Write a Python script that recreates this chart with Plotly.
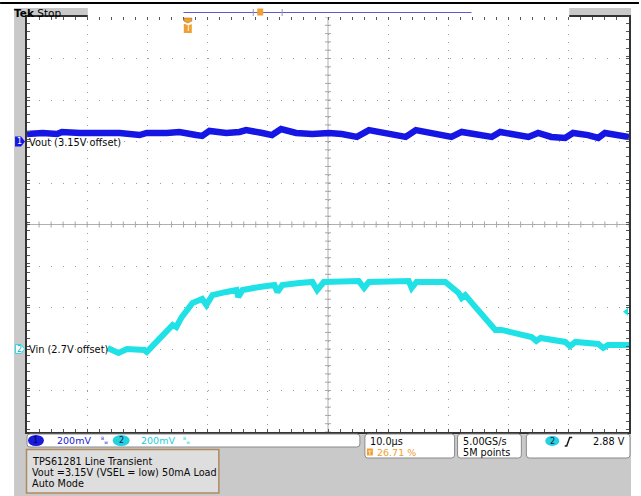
import plotly.graph_objects as go

# ---------------- data (time in us from left screen edge, volts) ----------------
vout_t = [0.0, 2.6, 5.0, 5.8, 8.8, 11.6, 13.2, 15.4, 18.7, 19.9,
          23.2, 25.3, 28.1, 29.1, 30.3, 33.1, 35.3, 36.4, 39.1, 40.7,
          42.2, 44.7, 47.4, 50.2, 52.3, 54.8, 56.8, 59.6, 62.9, 64.6,
          67.2, 70.5, 72.2, 75.0, 77.2, 78.6, 81.6, 83.3, 84.9, 87.1,
          89.4, 90.7, 93.2, 94.9, 96.0, 98.2, 100.0]
vout_v = [3.186, 3.191, 3.186, 3.196, 3.191, 3.191, 3.191, 3.191, 3.181, 3.191,
          3.191, 3.196, 3.181, 3.177, 3.201, 3.191, 3.196, 3.205, 3.191, 3.181,
          3.210, 3.191, 3.186, 3.191, 3.186, 3.172, 3.205, 3.191, 3.172, 3.205,
          3.191, 3.172, 3.196, 3.186, 3.172, 3.196, 3.181, 3.172, 3.191, 3.172,
          3.167, 3.191, 3.181, 3.167, 3.191, 3.181, 3.172]

vin_t = [13.4, 15.2, 16.6, 19.5, 19.9, 22.0, 24.2, 24.8, 25.7, 27.5,
         29.1, 29.8, 30.8, 33.1, 34.8, 35.1, 35.8, 38.6, 41.1, 41.6,
         42.4, 45.2, 47.4, 48.2, 49.3, 55.1, 56.0, 56.8, 63.4, 63.9,
         64.7, 69.5, 70.5, 71.7, 72.2, 72.8, 74.5, 76.2, 77.8, 78.8,
         81.6, 83.8, 84.6, 85.3, 89.4, 90.2, 91.1, 94.9, 95.7, 96.5, 100.0]
vin_v = [2.705, 2.681, 2.700, 2.695, 2.686, 2.753, 2.816, 2.806, 2.854, 2.922,
         2.941, 2.912, 2.960, 2.975, 2.984, 2.951, 2.984, 2.999, 3.008, 2.975,
         3.008, 3.018, 3.023, 2.984, 3.023, 3.028, 2.994, 3.023, 3.028, 2.994,
         3.023, 3.023, 2.999, 2.970, 2.946, 2.960, 2.902, 2.849, 2.792, 2.792,
         2.772, 2.758, 2.739, 2.753, 2.734, 2.714, 2.734, 2.724, 2.705, 2.719, 2.719]

# scope settings
TIME_DIV = 10.0          # us/div
N_XDIV = 10
N_YDIV = 10
CH1_SCALE, CH1_OFFSET, CH1_POS = 0.2, 3.15, 2    # V/div, V, div
CH2_SCALE, CH2_OFFSET, CH2_POS = 0.2, 2.7, -3
TRIG_PCT = 26.71
TRIG_LEVEL = 2.88

ch1_center = CH1_OFFSET - CH1_POS * CH1_SCALE
ch2_center = CH2_OFFSET - CH2_POS * CH2_SCALE
y1_range = [ch1_center - N_YDIV / 2 * CH1_SCALE, ch1_center + N_YDIV / 2 * CH1_SCALE]
y2_range = [ch2_center - N_YDIV / 2 * CH2_SCALE, ch2_center + N_YDIV / 2 * CH2_SCALE]
x_range = [0, N_XDIV * TIME_DIV]
trig_t = TRIG_PCT / 100 * x_range[1]

BLUE = "#1616e4"
CYAN = "#20e2e6"
ORANGE = "#f0a030"
GRAY_BG = "#c9c9c9"
TXT = "#0a0a0a"
FONT = "DejaVu Sans"

# pixel frame of the plot area
L, T, W, H = 27, 17, 604, 415
def X(px):
    return (px - L) / W
def Y(py):
    return (T + H - py) / H

shapes = []
annotations = []

def rect(x0, y0, x1, y1, fill, line=None, lw=0):
    shapes.append(dict(type="rect", xref="paper", yref="paper",
                       x0=X(x0), x1=X(x1), y0=Y(y0), y1=Y(y1),
                       fillcolor=fill, line=dict(color=line or fill, width=lw), layer="above"))

def rrect(x0, y0, x1, y1, fill, line, lw=1, r=3):
    pts = (f"M{X(x0+r)},{Y(y0)} L{X(x1-r)},{Y(y0)} Q{X(x1)},{Y(y0)} {X(x1)},{Y(y0+r)} "
           f"L{X(x1)},{Y(y1-r)} Q{X(x1)},{Y(y1)} {X(x1-r)},{Y(y1)} L{X(x0+r)},{Y(y1)} "
           f"Q{X(x0)},{Y(y1)} {X(x0)},{Y(y1-r)} L{X(x0)},{Y(y0+r)} Q{X(x0)},{Y(y0)} {X(x0+r)},{Y(y0)} Z")
    shapes.append(dict(type="path", xref="paper", yref="paper", path=pts,
                       fillcolor=fill, line=dict(color=line, width=lw), layer="above"))

def oval(x0, y0, x1, y1, fill):
    shapes.append(dict(type="circle", xref="paper", yref="paper",
                       x0=X(x0), x1=X(x1), y0=Y(y0), y1=Y(y1),
                       fillcolor=fill, line=dict(color=fill, width=0), layer="above"))

def line(x0, y0, x1, y1, color, lw=1):
    shapes.append(dict(type="line", xref="paper", yref="paper",
                       x0=X(x0), x1=X(x1), y0=Y(y0), y1=Y(y1),
                       line=dict(color=color, width=lw), layer="above"))

def text(s, px, py, color=TXT, size=10, anchor="left", **kw):
    annotations.append(dict(text=s, xref="paper", yref="paper", x=X(px), y=Y(py),
                            xanchor=anchor, yanchor="middle", showarrow=False,
                            font=dict(family=FONT, size=size, color=color), **kw))

# white page margins around the gray scope frame
rect(-5, -5, 646, 8, "white")
rect(-5, -5, 14, 501, "white")
rect(633, -5, 646, 501, "white")
line(0, 3, 641, 3, "black", 2)

# header bar
rect(88, 8, 571, 17, "white")
line(184, 12.5, 473, 12.5, "#5a5ad6", 1.2)
line(254, 9, 254, 16, "#9a9a9a", 1)
line(283, 9, 283, 16, "#9a9a9a", 1)
rect(258, 8.5, 264, 15.5, ORANGE)
text("<b>Tek</b> Stop", 12, 12.5, "#000000", 10.5)

# center crosshair (solid) with small ticks
shapes.append(dict(type="line", xref="paper", yref="y", x0=0, x1=1, y0=ch1_center, y1=ch1_center,
                   line=dict(color="#b0b0b0", width=1), layer="below"))
shapes.append(dict(type="line", xref="x", yref="paper", x0=x_range[1] / 2, x1=x_range[1] / 2, y0=0, y1=1,
                   line=dict(color="#b0b0b0", width=1), layer="below"))
k = 0
while k <= N_XDIV * 5:
    t = k * TIME_DIV / 5
    shapes.append(dict(type="line", xref="x", yref="y", ysizemode="pixel", yanchor=ch1_center,
                       x0=t, x1=t, y0=-3, y1=3, line=dict(color="#a8a8a8", width=1), layer="below"))
    k += 1
k = 0
while k <= N_YDIV * 5:
    v = y1_range[0] + k * CH1_SCALE / 5
    shapes.append(dict(type="line", xref="x", yref="y", xsizemode="pixel", xanchor=x_range[1] / 2,
                       x0=-3, x1=3, y0=v, y1=v, line=dict(color="#a8a8a8", width=1), layer="below"))
    k += 1

# trigger position marker (top)
shapes.append(dict(type="path", xref="x", yref="paper", xsizemode="pixel", xanchor=trig_t,
                   ysizemode="pixel", yanchor=1,
                   path="M-4,-1 L4,-1 L4,-4 L0,-6 L-4,-4 Z",
                   fillcolor=ORANGE, line=dict(color="#a06010", width=0.5), layer="above"))
shapes.append(dict(type="rect", xref="x", yref="paper", xsizemode="pixel", xanchor=trig_t,
                   ysizemode="pixel", yanchor=1, x0=-4, x1=4, y0=-7, y1=-16,
                   fillcolor=ORANGE, line=dict(color=ORANGE, width=0), layer="above"))
annotations.append(dict(text="T", xref="x", yref="paper", x=trig_t, y=Y(28.5), showarrow=False,
                        xanchor="center", yanchor="middle",
                        font=dict(family=FONT, size=8, color="white")))

# trigger level marker (right edge, ch2)
shapes.append(dict(type="path", xref="paper", yref="y2", xsizemode="pixel", xanchor=1,
                   ysizemode="pixel", yanchor=TRIG_LEVEL, path="M-6,0 L-1,4 L-1,-4 Z",
                   fillcolor=CYAN, line=dict(color=CYAN, width=0), layer="above"))

# channel ground markers + labels
shapes.append(dict(type="path", xref="paper", yref="y", xsizemode="pixel", xanchor=X(14),
                   ysizemode="pixel", yanchor=CH1_OFFSET, path="M1,5 L7,5 L11,0 L7,-5 L1,-5 Z",
                   fillcolor=BLUE, line=dict(color=BLUE, width=0), layer="above"))
annotations.append(dict(text="1", xref="paper", yref="y", x=X(19), y=CH1_OFFSET, showarrow=False,
                        xanchor="center", yanchor="middle",
                        font=dict(family=FONT, size=8, color="white")))
annotations.append(dict(text="Vout (3.15V offset)", xref="paper", yref="y", x=X(26.5), y=CH1_OFFSET,
                        yshift=-1, showarrow=False, xanchor="left", yanchor="middle",
                        font=dict(family=FONT, size=9.8, color=TXT)))
shapes.append(dict(type="path", xref="paper", yref="y2", xsizemode="pixel", xanchor=X(14),
                   ysizemode="pixel", yanchor=CH2_OFFSET, path="M1.5,4.5 L7,4.5 L10.5,0 L7,-4.5 L1.5,-4.5 Z",
                   fillcolor="white", line=dict(color=CYAN, width=1), layer="above"))
annotations.append(dict(text="2", xref="paper", yref="y2", x=X(19.5), y=CH2_OFFSET, showarrow=False,
                        xanchor="center", yanchor="middle",
                        font=dict(family=FONT, size=8, color="#10b0c0")))
annotations.append(dict(text="Vin (2.7V offset)", xref="paper", yref="y2", x=X(27), y=CH2_OFFSET,
                        showarrow=False, xanchor="left", yanchor="middle",
                        font=dict(family=FONT, size=9.8, color=TXT)))

# ---- bottom status area ----
rrect(27, 434, 361, 447, "white", "#8a8a8a", 1)
oval(28, 435, 44, 446, "#1a1ad8")
text("1", 36, 440.5, "#000070", 8, "center")
text("200mV", 55, 440.5, "#1a1ad8", 9.5)
text("<sup>B</sup><sub>w</sub>", 99, 440.5, "#1a1ad8", 6.5)
oval(113, 435, 130, 446, "#22d2dc")
text("2", 121.5, 440.5, "#101060", 8, "center")
text("200mV", 139, 440.5, "#20d0dc", 9.5)
text("<sup>B</sup><sub>w</sub>", 182, 440.5, "#20d0dc", 6.5)

rrect(366, 434, 456, 458, "white", "#8a8a8a", 1)
text("10.0µs", 369, 441, TXT, 9.7)
rect(368, 448.5, 374, 455.5, ORANGE)
text("T", 371, 452, "white", 6, "center")
text("26.71 %", 376, 452, ORANGE, 9.5)

rrect(459, 434, 523, 458, "white", "#8a8a8a", 1)
text("5.00GS/s", 462, 441, TXT, 9.7)
text("5M points", 462, 452, TXT, 9.7)

rrect(528, 434, 632, 458, "white", "#8a8a8a", 1)
oval(547, 436, 561, 446, "#22d2dc")
text("2", 554, 441, "#101060", 8, "center")
shapes.append(dict(type="path", xref="paper", yref="paper",
                   path=f"M{X(566.5)},{Y(446)} L{X(568.5)},{Y(446)} L{X(571.5)},{Y(437.5)} L{X(574)},{Y(437.5)}",
                   line=dict(color="#1a1a1a", width=1.5), layer="above"))
text("2.88 V", 629, 441, TXT, 9.7, "right")

# note box
rect(26.5, 449.5, 219.5, 493, "#dedede", "#b08a60", 1.5)
text("TPS61281 Line Transient", 30, 461, TXT, 9.7)
text("Vout =3.15V (VSEL = low) 50mA Load", 30, 472.5, TXT, 9.7)
text("Auto Mode", 30, 483.5, TXT, 9.7)

# ---------------- figure ----------------
fig = go.Figure()
fig.add_trace(go.Scatter(x=vout_t, y=vout_v, mode="lines", name="Vout",
                         line=dict(color=BLUE, width=6.5), yaxis="y"))
fig.add_trace(go.Scatter(x=vin_t, y=vin_v, mode="lines", name="Vin",
                         line=dict(color=CYAN, width=6), yaxis="y2"))

fig.update_layout(
    width=641, height=496, autosize=False,
    margin=dict(l=L, r=641 - L - W, t=T, b=496 - T - H, pad=0),
    paper_bgcolor=GRAY_BG, plot_bgcolor="white",
    showlegend=False,
    shapes=shapes, annotations=annotations,
    xaxis=dict(range=x_range, tick0=0, dtick=TIME_DIV, showticklabels=False,
               ticks="inside", ticklen=3, tickcolor="#555555", tickwidth=1,
               minor=dict(dtick=TIME_DIV / 5, ticks="inside", ticklen=3, tickcolor="#555555",
                          tickwidth=1, showgrid=False),
               showline=True, linecolor="#333333", linewidth=1.5, mirror="ticks",
               showgrid=True, gridcolor="#9c9c9c", gridwidth=1, griddash="1px,7.3px",
               zeroline=False, fixedrange=True),
    yaxis=dict(range=y1_range, tick0=y1_range[0], dtick=CH1_SCALE, showticklabels=False,
               ticks="inside", ticklen=3, tickcolor="#555555", tickwidth=1,
               minor=dict(dtick=CH1_SCALE / 5, ticks="inside", ticklen=3, tickcolor="#555555",
                          tickwidth=1, showgrid=False),
               showline=True, linecolor="#333333", linewidth=1.5, mirror="ticks",
               showgrid=True, gridcolor="#9c9c9c", gridwidth=1, griddash="1px,11.08px",
               zeroline=False, fixedrange=True),
    yaxis2=dict(range=y2_range, overlaying="y", visible=False, showgrid=False,
                zeroline=False, fixedrange=True),
)

fig.write_html("out.html", config={"displayModeBar": False},
               post_script="document.body.style.margin='0px';document.body.style.overflow='hidden';")
